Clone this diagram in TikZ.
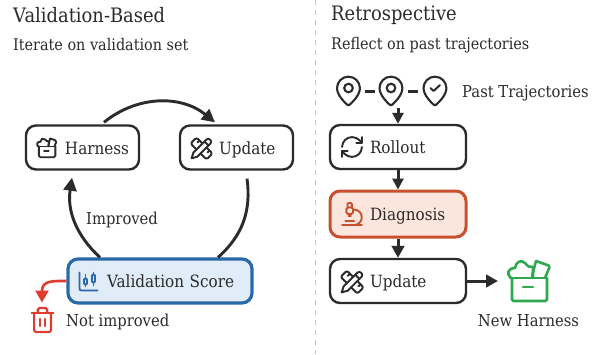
\documentclass[tikz,border=0pt]{standalone}
\usepackage{fontspec}
\setmainfont[FakeStretch=0.9]{DejaVu Serif}
\usetikzlibrary{arrows.meta,positioning,calc}
\definecolor{ink}{HTML}{2B2B2B}
\definecolor{bluel}{HTML}{2A69A8}
\definecolor{bluef}{HTML}{E0ECF8}
\definecolor{rustl}{HTML}{C8502E}
\definecolor{rustf}{HTML}{FBE5DD}
\definecolor{redl}{HTML}{E03C2D}
\definecolor{greenl}{HTML}{2FA84F}
\definecolor{divider}{HTML}{C4C4C4}
\tikzset{
  x=1pt,y=-1pt,
  bx/.style={draw=ink,line width=2.4pt,fill=white,rounded corners=10pt,minimum height=44pt,inner xsep=8pt,inner ysep=0pt,align=left,text=ink,font=\fontsize{16.9}{18}\selectfont,text height=16pt,text depth=2.5pt},
  lbl/.style={text=ink,font=\fontsize{16.4}{18}\selectfont,inner sep=0pt,anchor=west,text height=15pt,text depth=2.5pt},
  ttl/.style={text=ink,font=\fontsize{19.9}{22}\selectfont,inner sep=0pt,anchor=west},
  sub/.style={text=ink,font=\fontsize{16}{18}\selectfont,inner sep=0pt,anchor=west},
  flow/.style={draw=ink,line width=3pt,-{Triangle[length=12pt,width=12.5pt]}},
  flowsmall/.style={draw=ink,line width=3pt,-{Triangle[length=11pt,width=11pt]}},
  arcflow/.style={draw=ink,line width=2.9pt,line cap=butt},
  ico/.style={line width=1.9pt,line cap=round,line join=round},
}
\newcommand{\iconruler}[3]{\begin{scope}[shift={(#1,#2)},scale=#3,ico,draw=ink]
  \draw[rounded corners=2.2pt] (13,7) -- (7,1) -- (1,7) -- (7,13);
  \draw (8,6) -- (10,4) (18,16) -- (20,14) (15,5) -- (19,9);
  \draw[rounded corners=2.2pt] (17,11) -- (23,17) -- (17,23) -- (11,17);
  \draw (21.17,6.81) .. controls (23,4.5) and (19.5,1) .. (17.19,2.83) -- (3.84,16.17) -- (2.1,21.8) -- (7.8,20.2) -- cycle;
\end{scope}}
\newcommand{\iconbox}[5]{\begin{scope}[shift={(#1,#2)},scale=#3,line width=#5,line cap=round,line join=round,draw=#4]
  \draw[rounded corners=1.5pt] (4,18) -- (4,41) -- (39,41) -- (39,18);
  \draw[rounded corners=1.2pt] (2,18) -- (39,18);
  \draw (3,18) .. controls (-2,14) and (0,8) .. (7,8) .. controls (8,2) and (13,-1) .. (17,3) .. controls (20,7) and (22,7) .. (25,7) -- (25,18);
  \draw[rounded corners=1.5pt] (28,1) -- (42,6) -- (37,18) (24,16) -- (28,1);
  \draw (15,27) -- (25,27);
\end{scope}}
\begin{document}
\begin{tikzpicture}[x=1pt,y=-1pt]
\useasboundingbox (0,0) rectangle (600,354);
\fill[white] (0,0) rectangle (600,354);
\coordinate (divtop) at (315.5,0);
\coordinate (divbot) at (315.5,354);
\draw[divider,line width=1pt,dash pattern=on 5pt off 5pt] (divtop) -- (divbot);

\node[ttl] (t1) at (13,15) {Validation-Based};
\node[sub] (s1) at (13,45) {Iterate on validation set};
\node[ttl] (t2) at (331,15) {Retrospective};
\node[sub] (s2) at (331,45) {Reflect on past trajectories};

% left boxes
\node[bx,minimum width=113pt,text width=97pt] (harness) at (82.5,147.5) {\hspace*{31pt}Harness};
\node[bx,minimum width=113pt,text width=97pt] (upd1) at (236.5,147.5) {\hspace*{31pt}Update};
\node[bx,draw=bluel,fill=bluef,line width=3.2pt,minimum width=184pt,text width=168pt] (val) at (160,281) {\hspace*{31pt}Validation Score};

\coordinate (a1) at ([xshift=21.5pt,yshift=2pt]harness.north);
\coordinate (a2) at ([xshift=-21.5pt,yshift=2pt]upd1.north);
\coordinate (b1) at ([xshift=10.5pt,yshift=-8pt]upd1.south);
\coordinate (b2) at ([xshift=58pt]val.north);
\coordinate (c1) at ([xshift=-60pt]val.north);
\coordinate (c2) at ([xshift=-10.5pt,yshift=-7pt]harness.south);
\draw[arcflow,-{Triangle[length=13pt,width=13pt]}] (a1) to[bend left=39] (a2);
\draw[arcflow] (b1) to[bend left=28] (b2);
\draw[arcflow,-{Triangle[length=13pt,width=13pt]}] (c1) to[bend left=28] (c2);
\node[lbl] (imp) at (86,218) {Improved};

\coordinate (redend) at (42,302.5);
\draw[draw=redl,line width=2.6pt,-{Triangle[length=12pt,width=13pt]}] (val.west) -- +(-6,0) .. controls (50,281) and (42,282) .. (redend);
\node[lbl] (nimp) at (66,320) {Not improved};

% trash
\begin{scope}[shift={(28.1,305.6)},scale=1.2,ico,line width=2.2pt,draw=redl]
 \draw (3,6) -- (21,6);
 \draw[rounded corners=2pt] (19,6) -- (19,22) -- (5,22) -- (5,6);
 \draw[rounded corners=1.8pt] (8,6) -- (8,2) -- (16,2) -- (16,6);
 \draw (10,11) -- (10,17) (14,11) -- (14,17);
\end{scope}
% chart
\begin{scope}[shift={(76.5,269.5)},ico,draw=bluel,line width=1.8pt]
 \draw (9,5) -- (9,9) (9,15) -- (9,17) (17,3) -- (17,5) (17,13) -- (17,16);
 \draw[rounded corners=1pt] (7.5,9) rectangle (10.5,15);
 \draw[rounded corners=1pt] (15.5,5) rectangle (18.5,13);
 \draw[rounded corners=2pt] (3,3) -- (3,21) -- (21,21);
\end{scope}
\iconbox{37}{138}{0.47}{ink}{1.9pt}
\iconruler{189.5}{136.5}{1}

% right boxes
\node[bx,minimum width=136pt,text width=120pt] (roll) at (398,147) {\hspace*{32pt}Rollout};
\node[bx,draw=rustl,fill=rustf,line width=3pt,minimum width=136pt,text width=120pt,minimum height=46pt] (diag) at (398,214) {\hspace*{32pt}Diagnosis};
\node[bx,minimum width=136pt,text width=120pt] (upd2) at (398,281) {\hspace*{32pt}Update};
\coordinate (pinout) at (398,108);
\coordinate (nhin) at (498,281);
\draw[flowsmall] (pinout) -- (roll.north);
\draw[flowsmall] (roll.south) -- (diag.north);
\draw[flow] (diag.south) -- (upd2.north);
\draw[flow] (upd2.east) -- (nhin);
\node[lbl] (pt) at (462,91) {Past Trajectories};
\node[lbl,anchor=center] (nh) at (528.5,320) {New Harness};

% pins
\foreach \px in {331.3,373.8,417.8}{
 \begin{scope}[shift={(\px,73.8)},scale=1.43,ico,line width=2.1pt]
  \draw[draw=ink] (20,10) .. controls (20,15) and (14.5,20.2) .. (12.6,21.8) .. controls (12.2,22.1) and (11.8,22.1) .. (11.4,21.8) .. controls (9.5,20.2) and (4,15) .. (4,10) .. controls (4,5.6) and (7.6,2) .. (12,2) .. controls (16.4,2) and (20,5.6) .. (20,10) -- cycle;
 \end{scope}}
\draw[ink,line width=2.1pt] (348.5,88) circle[radius=4.3];
\draw[ink,line width=2.1pt] (391,88) circle[radius=4.3];
\draw[ink,line width=2pt,line cap=round,line join=round] (430.5,88) -- (433.5,91) -- (440,85);
\coordinate (d1a) at (365,91); \coordinate (d1b) at (375,91);
\coordinate (d2a) at (408,91); \coordinate (d2b) at (418,91);
\draw[ink,line width=3pt] (d1a) -- (d1b) (d2a) -- (d2b);

% refresh
\begin{scope}[shift={(338.8,133.8)},scale=1.1,ico,draw=ink]
 \draw (3,12) .. controls (3,7) and (7,3) .. (12,3) .. controls (14.5,3) and (17,4) .. (18.74,5.74) -- (21,8);
 \draw (21,3) -- (21,8) -- (16,8);
 \draw (21,12) .. controls (21,17) and (17,21) .. (12,21) .. controls (9.5,21) and (7,20) .. (5.26,18.26) -- (3,16);
 \draw (8,16) -- (3,16) -- (3,21);
\end{scope}
% microscope
\begin{scope}[shift={(338.7,200.8)},scale=1.1,ico,draw=rustl]
 \draw (6,18) -- (14,18) (3,22) -- (21,22) (9,14) -- (11,14);
 \draw (14,22) .. controls (17.9,22) and (21,18.9) .. (21,15) .. controls (21,11.1) and (17.9,8) .. (14,8) -- (13,8);
 \draw[rounded corners=1.6pt] (7,6) -- (7,12) -- (13,12) -- (13,6) -- cycle;
 \draw[rounded corners=1pt] (12,6) -- (12,2) -- (8,2) -- (8,6);
\end{scope}
\iconruler{339.5}{269.5}{1.05}
\iconbox{508}{260}{1}{greenl}{2.6pt}
\end{tikzpicture}
\end{document}
